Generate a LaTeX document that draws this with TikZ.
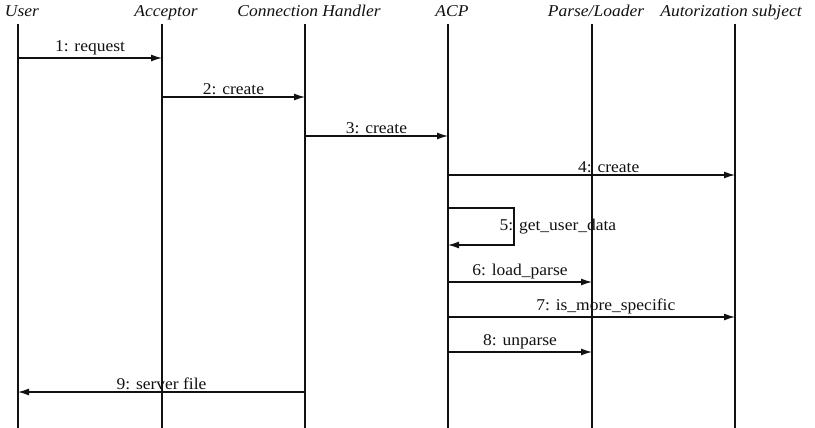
\documentclass[tikz,border=0pt]{standalone}
\usepackage{fontspec}
\setmainfont{Liberation Serif}[FakeStretch=1.06]
\usepackage{tikz}
\usetikzlibrary{arrows.meta}
\definecolor{ink}{HTML}{111111}
\tikzset{
  obj/.style={font=\fontsize{16.5}{19}\selectfont\itshape,inner sep=1pt,anchor=base,color=ink},
  life/.style={line width=1.3pt,color=ink},
  msg/.style={-{Latex[length=11pt,width=7pt]},line width=1.3pt,color=ink},
  lbl/.style={font=\fontsize{16.5}{19}\selectfont,above,inner sep=2pt,color=ink}}
\begin{document}
\begin{tikzpicture}[x=1pt,y=-1pt]
\useasboundingbox (0,0) rectangle (815,428);
% objects
\node[obj] (user) at (22,17) {User};
\node[obj] (acc) at (166,17) {Acceptor};
\node[obj] (conn) at (309,17) {Connection Handler};
\node[obj] (acp) at (452,17) {ACP};
\node[obj] (parse) at (596,17) {Parse/Loader};
\node[obj] (auth) at (731,17) {Autorization subject};
\coordinate (userL) at (18,24); \coordinate (accL) at (162,24);
\coordinate (connL) at (305,24); \coordinate (acpL) at (448,24);
\coordinate (parseL) at (592,24); \coordinate (authL) at (735,24);
\coordinate (bot) at (0,428);
% lifelines
\draw[life] (userL) -- (userL |- bot); \draw[life] (accL) -- (accL |- bot);
\draw[life] (connL) -- (connL |- bot); \draw[life] (acpL) -- (acpL |- bot);
\draw[life] (parseL) -- (parseL |- bot); \draw[life] (authL) -- (authL |- bot);
% message rows
\coordinate (r1) at (0,58); \coordinate (r2) at (0,97); \coordinate (r3) at (0,136);
\coordinate (r4) at (0,175); \coordinate (r6) at (0,282); \coordinate (r7) at (0,317);
\coordinate (r8) at (0,352); \coordinate (r9) at (0,392);
\coordinate (r5a) at (514,208); \coordinate (r5b) at (514,245);
% messages
\draw[msg] (userL |- r1) -- node[lbl]{1: request} (accL |- r1);
\draw[msg] (accL |- r2) -- node[lbl]{2: create} (connL |- r2);
\draw[msg] (connL |- r3) -- node[lbl]{3: create} (acpL |- r3);
\draw[msg] (acpL |- r4) -- node[lbl,pos=0.56]{4: create} (authL |- r4);
\draw[msg] (acpL |- r5a) -- (r5a) -- node[right,xshift=-15pt,inner sep=0pt,font=\fontsize{16.5}{19}\selectfont]{5: get\_user\_data} (r5b) -- (acpL |- r5b);
\draw[msg] (acpL |- r6) -- node[lbl]{6: load\_parse} (parseL |- r6);
\draw[msg] (acpL |- r7) -- node[lbl,pos=0.55]{7: is\_more\_specific} (authL |- r7);
\draw[msg] (acpL |- r8) -- node[lbl]{8: unparse} (parseL |- r8);
\draw[msg] (connL |- r9) -- node[lbl]{9: server file} (userL |- r9);
\end{tikzpicture}
\end{document}
